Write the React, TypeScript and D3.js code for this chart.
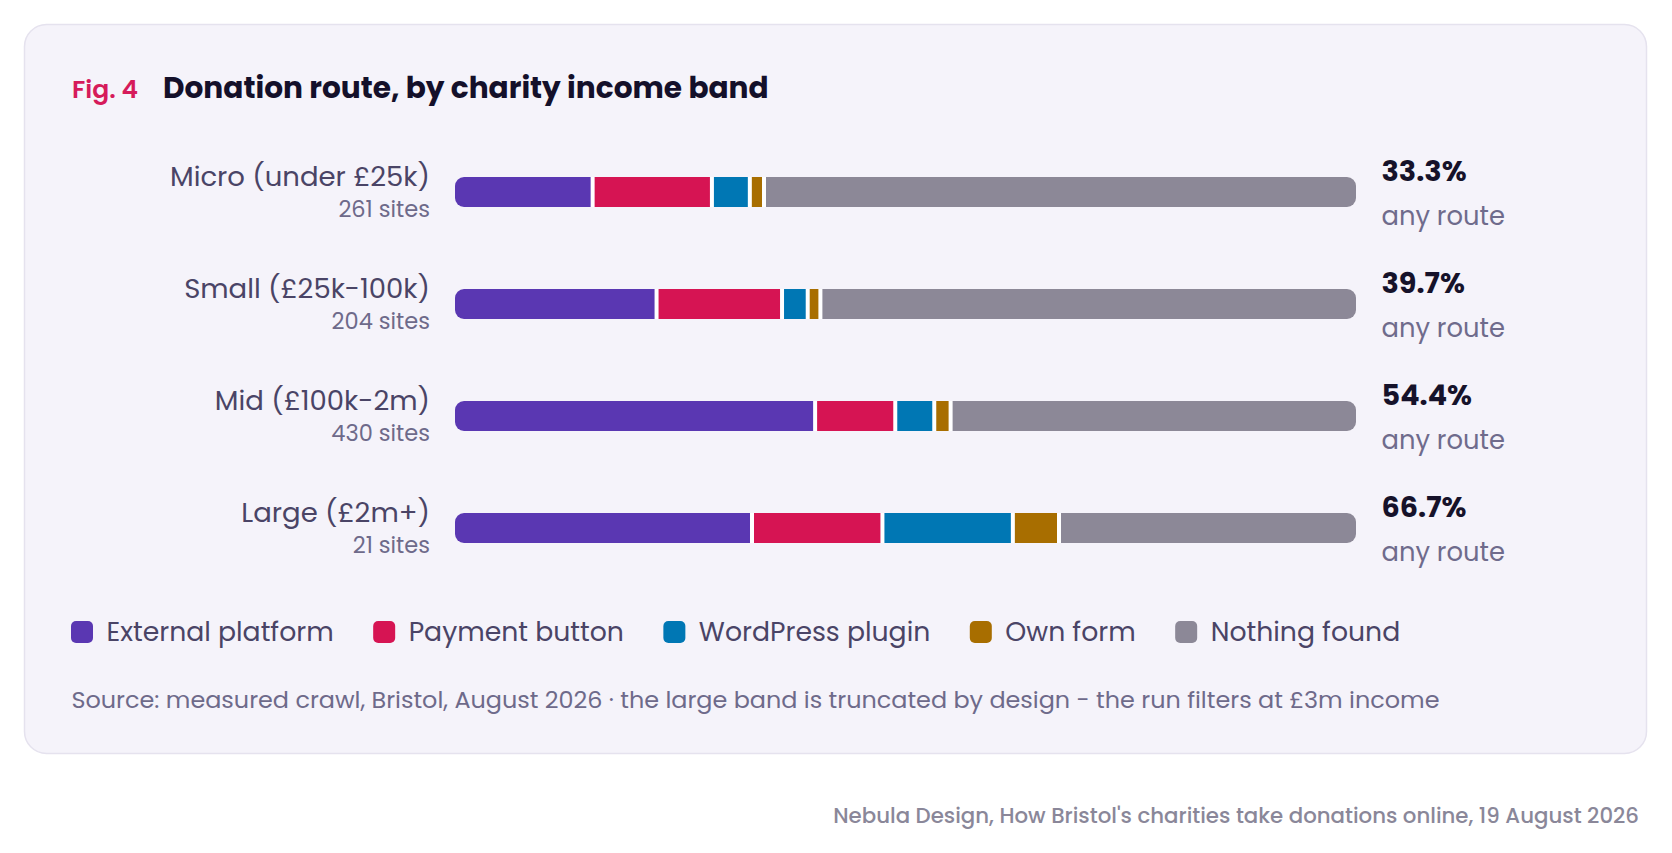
import { useEffect, useRef } from 'react';
import * as d3 from 'd3';

const bands = ['Micro (under £25k)', 'Small (£25k-100k)', 'Mid (£100k-2m)', 'Large (£2m+)'];
const siteCounts = [261, 204, 430, 21];
const routes = ['External platform', 'Payment button', 'WordPress plugin', 'Own form', 'Nothing found'];
const routeColors = ['#5a37b2', '#d61453', '#0077b4', '#a86e00', '#8c8897'];
// sites per band for each route (last = nothing found)
const externalPlatform = [40, 46, 174, 7];
const paymentButton = [34, 28, 37, 3];
const wordpressPlugin = [10, 5, 17, 3];
const ownForm = [3, 2, 6, 1];
const nothingFound = [174, 123, 196, 7];

const FONT = 'Poppins, Inter, "Noto Sans", sans-serif';

const W = 1672;
const H = 853;

export default function App() {
  const ref = useRef<SVGSVGElement>(null);

  useEffect(() => {
    if (!ref.current) return;
    const svg = d3.select(ref.current);
    svg.selectAll('*').remove();

    const series = [externalPlatform, paymentButton, wordpressPlugin, ownForm, nothingFound];

    // card
    svg
      .append('rect')
      .attr('x', 24.5)
      .attr('y', 24.5)
      .attr('width', 1622)
      .attr('height', 729)
      .attr('rx', 22)
      .attr('fill', '#f5f3fa')
      .attr('stroke', '#e5e2ee')
      .attr('stroke-width', 1.5);

    const title = svg.append('text').attr('x', 72).attr('y', 98).attr('font-family', FONT);
    title.append('tspan').attr('fill', '#d61a5a').attr('font-size', 25).attr('font-weight', 600).text('Fig. 4');
    title
      .append('tspan')
      .attr('x', 163)
      .attr('fill', '#14102a')
      .attr('font-size', 29.6)
      .attr('font-weight', 700)
      .text('Donation route, by charity income band');

    const barX = 455;
    const gap = 4;
    const barH = 30;
    const usable = 885;
    const fullW = usable + gap * (series.length - 1);

    const y = d3.scaleBand<string>().domain(bands).range([136, 584]);

    const defs = svg.append('defs');

    bands.forEach((band, i) => {
      const total = siteCounts[i];
      const x = d3.scaleLinear().domain([0, total]).range([0, usable]);
      const cy = (y(band) || 0) + y.bandwidth() / 2;
      const top = cy - barH / 2;

      defs
        .append('clipPath')
        .attr('id', `bar-clip-${i}`)
        .append('rect')
        .attr('x', barX)
        .attr('y', top)
        .attr('width', fullW)
        .attr('height', barH)
        .attr('rx', 9);

      const row = svg.append('g').attr('clip-path', `url(#bar-clip-${i})`);
      // white shows through the gaps between segments
      row.append('rect').attr('x', barX).attr('y', top).attr('width', fullW).attr('height', barH).attr('fill', '#ffffff');
      let cum = 0;
      series.forEach((s, j) => {
        const v = s[i];
        row
          .append('rect')
          .attr('x', barX + x(cum) + j * gap)
          .attr('y', top)
          .attr('width', x(v))
          .attr('height', barH)
          .attr('fill', routeColors[j]);
        cum += v;
      });

      svg
        .append('text')
        .attr('x', 430)
        .attr('y', cy - 6)
        .attr('text-anchor', 'end')
        .attr('font-family', FONT)
        .attr('font-size', 27.5)
        .attr('fill', '#4a4466')
        .text(band);
      svg
        .append('text')
        .attr('x', 430)
        .attr('y', cy + 25)
        .attr('text-anchor', 'end')
        .attr('font-family', FONT)
        .attr('font-size', 22.5)
        .attr('fill', '#6e6a8a')
        .text(`${total} sites`);

      const anyRoute = ((total - nothingFound[i]) / total) * 100;
      svg
        .append('text')
        .attr('x', 1381.5)
        .attr('y', cy - 11.5)
        .attr('font-family', FONT)
        .attr('font-size', 28.7)
        .attr('font-weight', 700)
        .attr('fill', '#16122a')
        .text(`${anyRoute.toFixed(1)}%`);
      svg
        .append('text')
        .attr('x', 1381.5)
        .attr('y', cy + 33)
        .attr('font-family', FONT)
        .attr('font-size', 25.8)
        .attr('fill', '#6f6b8c')
        .text('any route');
    });

    // legend, laid out in a row
    let lx = 71;
    routes.forEach((r, j) => {
      svg
        .append('rect')
        .attr('x', lx)
        .attr('y', 621)
        .attr('width', 22)
        .attr('height', 22)
        .attr('rx', 5)
        .attr('fill', routeColors[j]);
      const t = svg
        .append('text')
        .attr('x', lx + 35.5)
        .attr('y', 641)
        .attr('font-family', FONT)
        .attr('font-size', 26.7)
        .attr('fill', '#4a4466')
        .text(r);
      const len = (t.node() as SVGTextElement).getComputedTextLength();
      lx += 35.5 + len + 39.5;
    });

    svg
      .append('text')
      .attr('x', 71.5)
      .attr('y', 708)
      .attr('font-family', FONT)
      .attr('font-size', 23.9)
      .attr('fill', '#6e6a8a')
      .text('Source: measured crawl, Bristol, August 2026 · the large band is truncated by design - the run filters at £3m income');

    svg
      .append('text')
      .attr('x', 1639)
      .attr('y', 823)
      .attr('text-anchor', 'end')
      .attr('font-family', FONT)
      .attr('font-size', 21.3)
      .attr('font-weight', 500)
      .attr('fill', '#8a8799')
      .text("Nebula Design, How Bristol's charities take donations online, 19 August 2026");
  }, []);

  return (
    <div style={{ position: 'absolute', left: 0, top: 0 }}>
      <svg ref={ref} width={W} height={H} role="img" aria-label="Donation route by charity income band" />
    </div>
  );
}
